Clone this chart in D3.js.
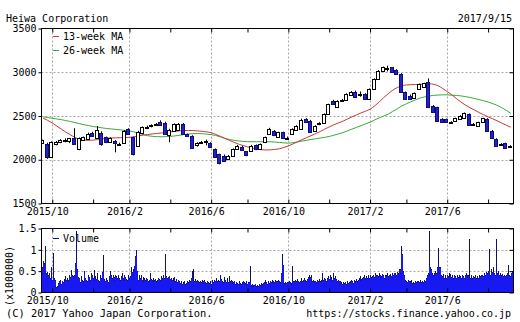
<!DOCTYPE html>
<html><head><meta charset="utf-8">
<script src="https://cdn.jsdelivr.net/npm/d3@7"></script>
<style>
body{margin:0;background:#fff;}
svg text{font-family:"DejaVu Sans Mono",monospace;font-size:10px;fill:#000;}
</style></head><body><svg id="c" width="520" height="322"></svg>
<script>
const title = "Heiwa Corporation";
const dateLabel = "2017/9/15";
const copyright = "(C) 2017 Yahoo Japan Corporation.";
const sourceUrl = "https://stocks.finance.yahoo.co.jp";
const legendNames = ["13-week MA", "26-week MA"];
const volumeName = "Volume";
const volumeUnit = "(x1000000)";
const firstWeek = [2015, 9, 21];
const lastDay = [2017, 9, 15];

const open = [2190,2185,2035,2175,2200,2222,2210,2250,2125,2230,
 2240,2310,2250,2310,2255,2205,2215,2180,2190,2350,
 2255,2160,2310,2370,2385,2400,2430,2425,2280,2330,
 2340,2410,2290,2275,2165,2195,2205,2190,2122,2065,
 2046,2008,2046,2122,2150,2095,2103,2165,2122,2198,
 2293,2331,2260,2312,2245,2290,2340,2350,2465,2446,
 2330,2405,2425,2525,2674,2600,2680,2680,2735,2775,
 2740,2750,2700,2808,2922,3017,3040,3055,3029,2979,
 2770,2731,2701,2808,2827,2884,2617,2598,2465,2465,
 2427,2446,2465,2472,2522,2405,2389,2427,2465,2331,
 2236,2175,2190,2150];
const high = [2230,2195,2210,2215,2235,2245,2250,2360,2255,2265,
 2310,2320,2385,2325,2265,2255,2225,2195,2340,2360,
 2265,2330,2380,2390,2405,2420,2450,2435,2355,2415,
 2420,2420,2300,2280,2200,2215,2230,2200,2130,2070,
 2060,2055,2130,2170,2160,2100,2170,2175,2185,2265,
 2365,2340,2320,2320,2265,2360,2395,2470,2475,2455,
 2395,2430,2530,2640,2685,2680,2695,2760,2785,2790,
 2780,2760,2815,2930,3025,3065,3075,3060,3035,2990,
 2780,2745,2770,2870,2880,2930,2625,2605,2475,2470,
 2440,2480,2510,2540,2530,2420,2435,2480,2475,2340,
 2245,2190,2195,2165];
const low = [2180,2010,2025,2165,2190,2200,2190,2175,2110,2215,
 2235,2265,2240,2160,2190,2195,2085,2165,2185,2290,
 2050,2150,2300,2350,2370,2390,2390,2290,2200,2325,
 2330,2290,2260,2130,2150,2180,2165,2135,2020,1947,
 1980,1995,2040,2115,2105,2040,2095,2110,2115,2190,
 2285,2270,2250,2236,2230,2285,2330,2345,2425,2310,
 2325,2395,2420,2520,2630,2595,2670,2675,2730,2710,
 2720,2690,2690,2800,2915,3010,3010,3000,2970,2765,
 2685,2685,2695,2800,2820,2590,2535,2440,2420,2425,
 2420,2440,2460,2465,2395,2395,2385,2420,2325,2240,
 2155,2165,2125,2140];
const close = [2222,2030,2200,2200,2222,2230,2245,2180,2245,2255,
 2290,2275,2335,2175,2200,2250,2190,2185,2330,2295,
 2060,2312,2370,2378,2395,2407,2398,2295,2345,2405,
 2410,2300,2275,2140,2190,2205,2212,2141,2027,1962,
 1989,2046,2122,2160,2114,2050,2160,2120,2179,2255,
 2350,2280,2312,2245,2250,2350,2385,2460,2430,2320,
 2385,2420,2522,2636,2636,2674,2686,2750,2770,2720,
 2755,2695,2808,2922,3017,3055,3048,3006,2979,2770,
 2693,2693,2762,2865,2876,2598,2541,2446,2427,2430,
 2430,2472,2503,2533,2400,2410,2427,2472,2331,2244,
 2160,2179,2130,2152];

const ma13 = [2475,2450,2420,2385,2350,2315,2285,2255,2235,2225,
 2222,2225,2230,2238,2245,2250,2250,2252,2254,2256,
 2262,2272,2282,2288,2295,2300,2306,2311,2318,2325,
 2330,2334,2335,2333,2330,2325,2318,2310,2290,2268,
 2245,2222,2200,2180,2162,2148,2135,2122,2115,2112,
 2113,2118,2125,2140,2158,2180,2205,2230,2252,2275,
 2298,2322,2350,2375,2400,2420,2440,2465,2490,2512,
 2535,2555,2578,2615,2660,2710,2755,2795,2825,2845,
 2855,2858,2860,2862,2865,2868,2862,2845,2815,2780,
 2742,2700,2660,2625,2595,2568,2540,2515,2490,2468,
 2445,2420,2395,2372];
const ma26 = [2490,2482,2474,2466,2458,2448,2437,2425,2412,2400,
 2390,2380,2372,2364,2357,2352,2347,2341,2335,2329,
 2318,2303,2288,2275,2268,2264,2263,2264,2267,2272,
 2280,2288,2294,2298,2300,2298,2293,2287,2278,2262,
 2245,2232,2222,2215,2210,2207,2206,2206,2206,2206,
 2206,2203,2198,2193,2190,2195,2203,2213,2222,2232,
 2240,2248,2256,2266,2280,2295,2310,2330,2350,2370,
 2390,2410,2430,2455,2478,2500,2522,2552,2582,2615,
 2640,2662,2685,2705,2718,2728,2736,2740,2742,2742,
 2738,2735,2730,2722,2712,2700,2688,2675,2660,2642,
 2622,2595,2565,2530];

// daily volume (x1,000,000), five trading days per week
const volume = [
 [0.50,0.60,0.75,0.70,1.10],[0.75,0.45,0.47,0.40,0.45],[0.35,0.60,0.30,0.92,0.33],[0.30,0.16,0.12,0.15,0.22],
 [0.26,0.30,0.20,0.28,0.25],[0.32,0.28,0.38,0.30,0.35],[0.30,0.40,0.36,0.52,0.40],[0.38,0.36,0.40,0.70,1.45],
 [0.55,0.36,0.35,0.25,0.38],[0.30,0.28,0.50,0.45,0.35],[0.30,0.28,0.42,0.36,0.30],[0.45,0.40,0.35,0.52,0.30],
 [0.38,0.32,0.45,0.30,0.28],[0.40,0.35,0.48,0.87,0.30],[0.32,0.28,0.35,0.30,0.25],[0.38,0.50,0.42,0.35,0.40],
 [0.36,0.30,0.42,0.38,0.34],[0.40,0.33,0.30,0.38,0.45],[0.35,0.30,0.40,0.36,0.32],[0.30,0.42,0.35,0.38,0.60],
 [0.48,0.55,0.40,0.62,0.85],[1.00,0.50,0.30,0.42,0.35],[0.40,0.30,0.36,0.28,0.33],[0.30,0.35,0.32,0.28,0.30],
 [0.45,0.32,0.30,0.34,0.28],[0.30,0.32,0.28,0.30,0.35],[0.32,0.30,0.38,0.34,0.36],[0.40,0.35,0.90,0.38,0.33],
 [0.36,0.38,0.32,0.35,0.30],[0.33,0.30,0.36,0.28,0.32],[0.25,0.30,0.26,0.22,0.28],[0.20,0.24,0.22,0.26,0.20],
 [0.22,0.28,0.24,0.30,0.26],[0.35,0.50,0.30,0.55,0.28],[0.32,0.28,0.30,0.26,0.25],[0.28,0.24,0.30,0.22,0.26],
 [0.30,0.25,0.22,0.28,0.24],[0.22,0.26,0.20,0.24,0.30],[0.25,0.30,0.28,0.35,0.26],[0.30,0.28,0.40,0.32,0.27],
 [0.26,0.24,0.36,0.30,0.25],[0.35,0.25,0.38,0.28,0.30],[0.26,0.22,0.25,0.28,0.20],[0.24,0.22,0.20,0.26,0.22],
 [0.20,0.25,0.22,0.28,0.24],[0.22,0.26,0.20,0.25,0.25],[0.62,0.18,0.20,0.15,0.18],[0.17,0.20,0.15,0.18,0.16],
 [0.20,0.18,0.22,0.16,0.19],[0.22,0.25,0.30,0.24,0.20],[0.26,0.22,0.28,0.24,0.30],[0.25,0.28,0.24,0.30,0.26],
 [0.26,0.30,0.28,0.24,0.45],[0.45,0.90,0.65,0.22,0.24],[0.22,0.25,0.24,0.28,0.24],[0.22,0.20,0.62,0.28,0.26],
 [0.30,0.26,0.32,0.28,0.24],[0.26,0.30,0.34,0.28,0.30],[0.35,0.30,0.28,0.32,0.36],[0.40,0.36,0.42,0.30,0.28],
 [0.30,0.26,0.28,0.25,0.30],[0.28,0.32,0.26,0.30,0.27],[0.45,0.30,0.35,0.32,0.28],[0.35,0.38,0.32,0.40,0.34],
 [0.36,0.30,0.45,0.33,0.38],[0.32,0.28,0.30,0.26,0.28],[0.22,0.25,0.20,0.24,0.22],[0.24,0.20,0.26,0.22,0.25],
 [0.28,0.24,0.30,0.26,0.22],[0.30,0.28,0.32,0.26,0.30],[0.34,0.30,0.38,0.32,0.35],[0.36,0.40,0.33,0.38,0.35],
 [0.40,0.35,0.42,0.38,0.36],[0.38,0.42,0.36,0.45,0.40],[0.42,0.38,0.45,0.36,0.40],[0.38,0.44,0.40,0.35,0.42],
 [0.40,0.45,0.38,0.42,0.44],[0.42,0.38,0.46,0.40,0.45],[0.45,0.42,0.48,0.45,0.55],[0.55,0.45,1.10,0.90,0.50],
 [0.42,0.30,0.28,0.25,0.30],[0.26,0.28,0.24,0.30,0.22],[0.25,0.22,0.28,0.24,0.26],[0.28,0.24,0.26,0.30,0.25],
 [0.27,0.25,0.30,0.28,0.35],[0.40,0.45,0.40,1.45,0.60],[0.55,0.45,0.40,0.45,0.50],[0.45,0.60,1.05,0.45,0.60],
 [0.60,0.42,0.38,0.44,0.35],[0.40,0.35,0.42,0.38,0.45],[0.38,0.44,0.36,0.40,0.35],[0.42,0.38,0.35,0.40,0.37],
 [0.36,0.40,0.38,0.34,0.42],[0.38,0.35,0.40,0.45,0.40],[0.40,0.36,1.25,0.35,0.40],[0.35,0.38,0.36,0.40,0.34],
 [0.38,0.34,0.40,0.36,0.38],[0.40,0.42,0.38,0.45,0.40],[0.48,0.45,0.50,1.03,0.45],[0.40,0.55,0.48,0.60,0.45],
 [0.42,1.25,0.46,0.50,0.45],[0.42,0.45,0.40,0.44,0.38],[0.40,0.38,0.42,0.45,0.65],[0.40,0.42,0.38,0.45,0.50]
];

const priceTicks = [1500, 2000, 2500, 3000, 3500];
const priceGrid = [2000, 2500, 3000];
const volTicks = [0, 0.5, 1, 1.5];
const volTickLabels = ["0", "0.5", "1", "1.5"];
const volGrid = [0.5, 1];
const monthTicks = ["2015/10","2015/12","2016/2","2016/4","2016/6","2016/8","2016/10","2016/12","2017/2","2017/4","2017/6","2017/8"];
const labeledMonths = ["2015/10","2016/2","2016/6","2016/10","2017/2","2017/6"];

// ---------- layout ----------
const L = 41.5, R = 513.5, T = 28.5, B = 203.5, VT = 228.5, VB = 292.5;
const svg = d3.select("#c");
svg.append("rect").attr("width", 520).attr("height", 322).attr("fill", "#fff");

const weeks = d3.timeMonday.range(new Date(firstWeek[0], firstWeek[1]-1, firstWeek[2]),
                                  new Date(lastDay[0], lastDay[1]-1, lastDay[2]+1));
const x = d3.scaleLinear().domain([0, weeks.length - 1]).range([43.2, 510.8]);
const y = d3.scaleLinear().domain([1500, 3500]).range([B, T]);
const yv = d3.scaleLinear().domain([0, 1.5]).range([VB, VT]);
const dayStep = (x(1) - x(0)) / 5;

const tickIdx = monthTicks.map(m => {
  const [yy, mm] = m.split("/").map(Number);
  const d = new Date(yy, mm - 1, 1);
  return weeks.findIndex(w => w >= d);
});
const labelIdx = tickIdx.filter((t, k) => labeledMonths.includes(monthTicks[k]));
const labelOf = i => { const k = tickIdx.indexOf(i); const m = monthTicks[k]; return labeledMonths.includes(m) ? m : ""; };
const px = v => Math.round(v) + 0.5;

const grid = svg.append("g").attr("stroke", "#a8a8a8").attr("stroke-dasharray", "2,2").attr("stroke-width", 1);
[[T, B], [VT, VB]].forEach(([t, b]) => {
  labelIdx.forEach(i => grid.append("line").attr("x1", px(x(i))).attr("x2", px(x(i))).attr("y1", t).attr("y2", b));
});
priceGrid.forEach(v => grid.append("line").attr("x1", L).attr("x2", R).attr("y1", px(y(v))).attr("y2", px(y(v))));
volGrid.forEach(v => grid.append("line").attr("x1", L).attr("x2", R).attr("y1", px(yv(v))).attr("y2", px(yv(v))));

// clip
svg.append("clipPath").attr("id", "pc").append("rect").attr("x", L).attr("y", T).attr("width", R - L).attr("height", B - T);
svg.append("clipPath").attr("id", "vc").append("rect").attr("x", L + 0.5).attr("y", VT).attr("width", R - L - 1).attr("height", VB - VT);

// moving averages
const idx = d3.range(weeks.length);
const maLine = arr => d3.line().x(i => x(i)).y(i => y(arr[i])).curve(d3.curveMonotoneX)(idx);
const maG = svg.append("g").attr("clip-path", "url(#pc)").attr("fill", "none").attr("stroke-width", 1);
maG.append("path").attr("d", maLine(ma26)).attr("stroke", "#3aa83a");
maG.append("path").attr("d", maLine(ma13)).attr("stroke", "#c23a3a");

// candles
const cg = svg.append("g").attr("clip-path", "url(#pc)");
idx.forEach(i => {
  const cx = Math.round(x(i));
  const up = close[i] >= open[i];
  cg.append("line").attr("x1", cx - 0.5).attr("x2", cx - 0.5)
    .attr("y1", y(high[i])).attr("y2", y(low[i])).attr("stroke", "#000").attr("stroke-width", 1);
  const top = px(y(Math.max(open[i], close[i])));
  const bot = px(y(Math.min(open[i], close[i])));
  cg.append("rect").attr("x", cx - 2.5).attr("width", 3)
    .attr("y", top).attr("height", Math.max(bot - top, 1))
    .attr("fill", up ? "#fff" : "#2323c4")
    .attr("stroke", up ? "#000" : "#0c0c80").attr("stroke-width", 1);
});

// volume: bright blue bars, the part that stands above both neighbours in dark navy
const flat = [];
volume.forEach((days, i) => days.forEach((v, d) => flat.push({ v, bx: x(i) + (d - 2) * dayStep })));
const vg = svg.append("g").attr("clip-path", "url(#vc)").attr("shape-rendering", "crispEdges");
flat.forEach((b, k) => {
  const bx = Math.floor(b.bx);
  vg.append("rect").attr("x", bx).attr("width", 1)
    .attr("y", Math.round(yv(b.v))).attr("height", VB - Math.round(yv(b.v))).attr("fill", "#1818f0");
});
flat.forEach((b, k) => {
  const nb = Math.max(k > 0 ? flat[k - 1].v : 0, k < flat.length - 1 ? flat[k + 1].v : 0);
  const yt = Math.round(yv(b.v));
  const yb = Math.max(yt + 1, Math.round(yv(Math.min(b.v, nb))));
  vg.append("rect").attr("x", Math.floor(b.bx)).attr("width", 1)
    .attr("y", yt).attr("height", yb - yt).attr("fill", "#10106e");
});

// frames
svg.append("rect").attr("x", L).attr("y", T).attr("width", R - L).attr("height", B - T).attr("fill", "none").attr("stroke", "#000");
svg.append("rect").attr("x", L).attr("y", VT).attr("width", R - L).attr("height", VB - VT).attr("fill", "none").attr("stroke", "#000");

// axes
function styleAxis(g) { g.select(".domain").remove(); g.selectAll("text").attr("font-size", null).attr("font-family", null); g.selectAll("line").attr("stroke", "#000"); }
svg.append("g").attr("transform", `translate(0,${B})`)
  .call(d3.axisBottom(x).tickValues(tickIdx).tickFormat(labelOf).tickSizeInner(-4).tickSizeOuter(0).tickPadding(4))
  .call(styleAxis).call(g => g.selectAll("text").attr("dx", -5));
svg.append("g").attr("transform", `translate(0,${T})`)
  .call(d3.axisTop(x).tickValues(tickIdx).tickFormat("").tickSizeInner(-4).tickSizeOuter(0)).call(styleAxis);
svg.append("g").attr("transform", `translate(0,${VB})`)
  .call(d3.axisBottom(x).tickValues(tickIdx).tickFormat(labelOf).tickSizeInner(-4).tickSizeOuter(0).tickPadding(4))
  .call(styleAxis).call(g => g.selectAll("text").attr("dx", -5));
svg.append("g").attr("transform", `translate(0,${VT})`)
  .call(d3.axisTop(x).tickValues(tickIdx).tickFormat("").tickSizeInner(-4).tickSizeOuter(0)).call(styleAxis);

svg.append("g").attr("transform", `translate(${L},0)`)
  .call(d3.axisLeft(y).tickValues(priceTicks).tickFormat(d3.format("d")).tickSize(3).tickPadding(2))
  .call(styleAxis);
svg.append("g").attr("transform", `translate(${R},0)`)
  .call(d3.axisRight(y).tickValues(priceTicks).tickFormat("").tickSizeInner(-4).tickSizeOuter(0)).call(styleAxis);
svg.append("g").attr("transform", `translate(${L},0)`)
  .call(d3.axisLeft(yv).tickValues(volTicks).tickFormat((d, k) => volTickLabels[k]).tickSize(3).tickPadding(2))
  .call(styleAxis);
svg.append("g").attr("transform", `translate(${R},0)`)
  .call(d3.axisRight(yv).tickValues(volTicks).tickFormat("").tickSizeInner(-4).tickSizeOuter(0)).call(styleAxis);

// texts
svg.append("text").attr("x", 6).attr("y", 22).text(title);
svg.append("text").attr("x", 512).attr("y", 22).attr("text-anchor", "end").text(dateLabel);
svg.append("text").attr("x", 6).attr("y", 317).style("font-size", "10.4px").text(copyright);
svg.append("text").attr("x", 511).attr("y", 317).attr("text-anchor", "end").text(sourceUrl);
svg.append("text").attr("transform", "translate(12.5,276) rotate(-90)").attr("text-anchor", "middle").text(volumeUnit);

// legends
const legColors = ["#c23a3a", "#3aa83a"];
legendNames.forEach((n, k) => {
  const yy = 36 + k * 14;
  svg.append("line").attr("x1", 53).attr("x2", 59).attr("y1", yy + 0.5).attr("y2", yy + 0.5).attr("stroke", legColors[k]);
  svg.append("text").attr("x", 63).attr("y", yy + 3.5).text(n);
});
svg.append("line").attr("x1", 53).attr("x2", 59).attr("y1", 238.5).attr("y2", 238.5).attr("stroke", "#10106a");
svg.append("text").attr("x", 63).attr("y", 241.5).text(volumeName);
</script></body></html>
